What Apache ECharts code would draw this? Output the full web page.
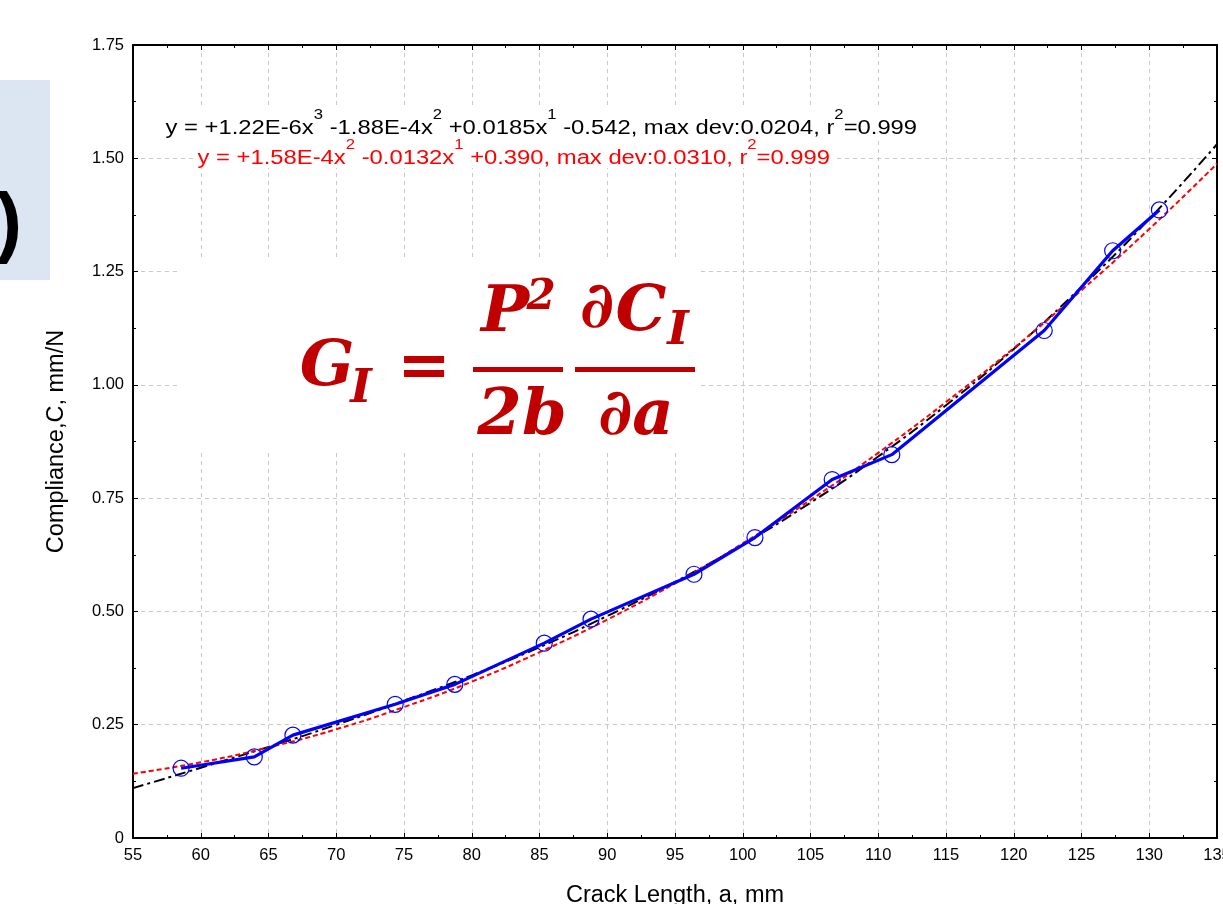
<!DOCTYPE html>
<html>
<head>
<meta charset="utf-8">
<script src="https://cdn.jsdelivr.net/npm/echarts@6/dist/echarts.min.js"></script>
<style>
html,body{margin:0;padding:0;background:#fff;}
#chart{width:1223px;height:904px;}
</style>
</head>
<body>
<div id="chart"></div>
<script>
// Measured data (crack length a, mm ; compliance C, mm/N)
const crackLength = [58.55, 63.95, 66.8, 74.35, 78.75, 85.35, 88.8, 96.4, 100.9, 106.6, 111.0, 122.25, 127.3, 130.75];
const compliance  = [0.154, 0.179, 0.227, 0.295, 0.339, 0.430, 0.483, 0.582, 0.663, 0.791, 0.846, 1.120, 1.296, 1.386];

// Fit curves
const fitX     = [55, 60, 65, 70, 75, 80, 85, 90, 95, 100, 105, 110, 115, 120, 125, 130, 135];
const cubicFit = [0.110, 0.155, 0.201, 0.250, 0.303, 0.359, 0.421, 0.490, 0.565, 0.648, 0.740, 0.842, 0.955, 1.079, 1.216, 1.366, 1.531];
const quadFit  = [0.142, 0.167, 0.200, 0.240, 0.289, 0.345, 0.410, 0.482, 0.562, 0.650, 0.746, 0.850, 0.962, 1.081, 1.209, 1.344, 1.488];

// Texts
const xAxisTitle = 'Crack Length, a, mm';
const yAxisTitle = 'Compliance,C, mm/N';
const cubicLabel = '{n|y = +1.22E-6x}{s|3}{n| -1.88E-4x}{s|2}{n| +0.0185x}{s|1}{n| -0.542, max dev:0.0204, r}{s|2}{n|=0.999}';
const quadLabel  = '{n|y = +1.58E-4x}{s|2}{n| -0.0132x}{s|1}{n| +0.390, max dev:0.0310, r}{s|2}{n|=0.999}';

const FONT = 'Liberation Sans, Arial, sans-serif';
const MATH = 'DejaVu Serif, serif';
const RED = '#c00000';

const zip = (a, b) => a.map((v, i) => [v, b[i]]);

const chart = echarts.init(document.getElementById('chart'), null, {renderer: 'canvas'});

function axisCommon(extra) {
  return Object.assign({
    type: 'value',
    axisLine: {show: true, onZero: false, lineStyle: {color: '#000', width: 2}},
    axisTick: {show: true, inside: true, length: 5, lineStyle: {color: '#000', width: 1}},
    minorTick: {show: true, splitNumber: 2, length: 3, lineStyle: {color: '#000', width: 1}},
    minorSplitLine: {show: false}
  }, extra);
}

function richLabel(text, color) {
  return {
    text: text,
    backgroundColor: '#fff',
    padding: [0, 3],
    rich: {
      n: {fontSize: 20, fontFamily: FONT, fill: color, lineHeight: 30, verticalAlign: 'bottom'},
      s: {fontSize: 14, fontFamily: FONT, fill: color, lineHeight: 30, verticalAlign: 'top'}
    }
  };
}

function mathText(txt, cx, cy, size) {
  return {
    type: 'text', z: 101,
    style: {
      text: txt, x: cx, y: cy, align: 'center', verticalAlign: 'middle',
      fontFamily: MATH, fontSize: size, fontWeight: 'bold', fontStyle: 'italic', fill: RED
    }
  };
}

const option = {
  animation: false,
  backgroundColor: '#fff',
  grid: {left: 133, right: 6, top: 45, bottom: 66, containLabel: false, outerBoundsMode: 'none'},
  xAxis: [
    axisCommon({
      position: 'bottom', min: 55, max: 135, interval: 5,
      splitLine: {show: true, lineStyle: {color: '#c8c8c8', type: [4, 4], width: 1}},
      axisLabel: {margin: 9, fontSize: 16.5, color: '#000', fontFamily: FONT},
      name: xAxisTitle, nameLocation: 'middle', nameGap: 46,
      nameTextStyle: {fontSize: 23.5, color: '#000', fontFamily: FONT}
    }),
    axisCommon({
      position: 'top', min: 55, max: 135, interval: 5,
      splitLine: {show: false}, axisLabel: {show: false}
    })
  ],
  yAxis: [
    axisCommon({
      position: 'left', min: 0, max: 1.75, interval: 0.25,
      splitLine: {show: true, lineStyle: {color: '#c8c8c8', type: [4, 4], width: 1}},
      axisLabel: {margin: 9, fontSize: 16.5, color: '#000', fontFamily: FONT,
        formatter: v => (v === 0 ? '0' : v.toFixed(2))},
      name: yAxisTitle, nameLocation: 'middle', nameGap: 64,
      nameTextStyle: {fontSize: 23.5, color: '#000', fontFamily: FONT}
    }),
    axisCommon({
      position: 'right', min: 0, max: 1.75, interval: 0.25,
      splitLine: {show: false}, axisLabel: {show: false}
    })
  ],
  series: [
    {
      name: 'cubic fit', type: 'line', xAxisIndex: 0, yAxisIndex: 0,
      data: zip(fitX, cubicFit), smooth: true, showSymbol: false, symbol: 'none',
      lineStyle: {color: '#000', width: 2, type: [11, 4, 3, 4]}, z: 3
    },
    {
      name: 'quadratic fit', type: 'line', xAxisIndex: 0, yAxisIndex: 0,
      data: zip(fitX, quadFit), smooth: true, showSymbol: false, symbol: 'none',
      lineStyle: {color: '#ff0000', width: 2, type: [5, 3]}, z: 4
    },
    {
      name: 'measured', type: 'line', xAxisIndex: 0, yAxisIndex: 0,
      data: zip(crackLength, compliance), smooth: false,
      symbol: 'circle', symbolSize: 16, showSymbol: true,
      lineStyle: {color: '#0000ff', width: 3.2},
      itemStyle: {color: 'rgba(0,0,0,0)', borderColor: '#0000ff', borderWidth: 1.2},
      z: 5
    }
  ],
  graphic: [
    // cropped side panel at the left
    {type: 'rect', z: 100, shape: {x: 0, y: 80, width: 50, height: 200}, style: {fill: '#dce6f2'}},
    {type: 'text', z: 101, style: {text: ')', x: -4, y: 226, verticalAlign: 'middle', fontSize: 78, fontWeight: 'bold', fontFamily: FONT, fill: '#000'}},
    // fit equations
    {type: 'text', z: 100, x: 162, y: 108, scaleX: 1.19, style: richLabel(cubicLabel, '#000')},
    {type: 'text', z: 100, x: 194, y: 138, scaleX: 1.19, style: richLabel(quadLabel, '#ff0000')},
    // formula block
    {type: 'rect', z: 99, shape: {x: 178, y: 258, width: 522, height: 194}, style: {fill: '#fff'}},
    mathText('G', 327, 368, 64),
    mathText('I', 361, 390, 46),
    mathText('=', 424, 369, 64),
    mathText('P', 505, 314, 64),
    mathText('2', 541, 298, 42),
    mathText('\u2202', 597, 310, 64),
    mathText('C', 641, 313, 64),
    mathText('I', 678, 332, 46),
    {type: 'rect', z: 101, shape: {x: 473, y: 367, width: 90, height: 5}, style: {fill: RED}},
    {type: 'rect', z: 101, shape: {x: 575, y: 367, width: 120, height: 5}, style: {fill: RED}},
    mathText('2b', 522, 417, 64),
    mathText('\u2202a', 636, 417, 64)
  ]
};

chart.setOption(option);
</script>
</body>
</html>
